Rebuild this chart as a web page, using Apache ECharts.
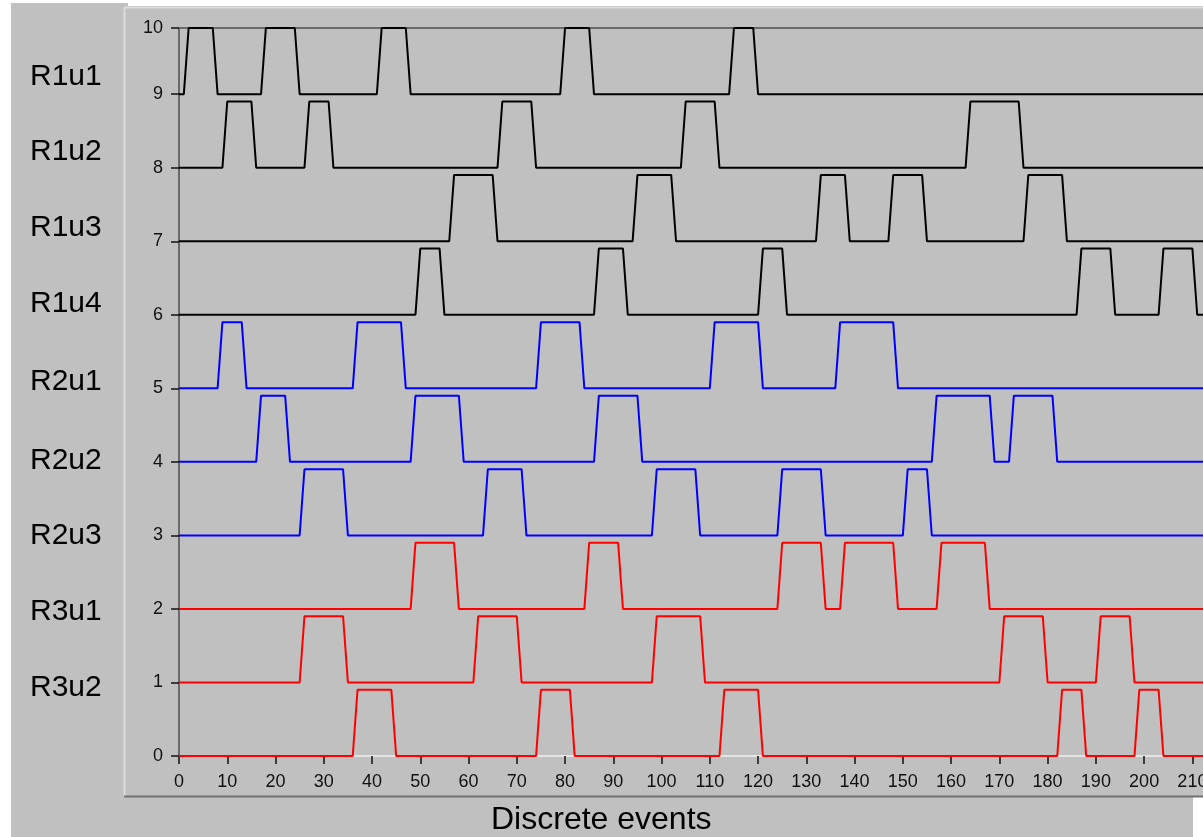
<!DOCTYPE html>
<html>
<head>
<meta charset="utf-8">
<script src="https://cdn.jsdelivr.net/npm/echarts@6/dist/echarts.min.js"></script>
<style>
html,body{margin:0;padding:0;background:#ffffff;overflow:hidden;width:1203px;height:837px;}
#chart{width:1203px;height:837px;position:absolute;left:0;top:0;}
</style>
</head>
<body>
<div id="chart"></div>
<script>
// Row labels (left side)
const rowLabels = ['R1u1','R1u2','R1u3','R1u4','R2u1','R2u2','R2u3','R3u1','R3u2'];
// Baseline level of each trace (top to bottom)
const traceBases = [9, 8, 7, 6, 5, 4, 3, 2, 1, 0];
const pulseHeight = 0.9;
// Each pulse: [last low x, first high x, last high x, first low x]
const trace9 = [[1,2,7,8],[17,18,24,25],[41,42,47,48],[79,80,85,86],[114,115,119,120]];
const trace8 = [[9,10,15,16],[26,27,31,32],[66,67,73,74],[104,105,111,112],[163,164,174,175]];
const trace7 = [[56,57,65,66],[94,95,102,103],[132,133,138,139],[147,148,154,155],[175,176,183,184]];
const trace6 = [[49,50,54,55],[86,87,92,93],[120,121,125,126],[186,187,193,194],[203,204,210,211]];
const trace5 = [[8,9,13,14],[36,37,46,47],[74,75,83,84],[110,111,120,121],[136,137,148,149]];
const trace4 = [[16,17,22,23],[48,49,58,59],[86,87,95,96],[156,157,168,169],[172,173,181,182]];
const trace3 = [[25,26,34,35],[63,64,71,72],[98,99,107,108],[124,125,133,134],[150,151,155,156]];
const trace2 = [[48,49,57,58],[84,85,91,92],[124,125,133,134],[137,138,148,149],[157,158,167,168]];
const trace1 = [[25,26,34,35],[61,62,70,71],[98,99,108,109],[170,171,179,180],[190,191,197,198]];
const trace0 = [[36,37,44,45],[74,75,81,82],[112,113,120,121],[182,183,187,188],[198,199,203,204]];
const tracePulses = [trace9, trace8, trace7, trace6, trace5, trace4, trace3, trace2, trace1, trace0];
const traceColors = ['#000000','#000000','#000000','#000000','#0000ff','#0000ff','#0000ff','#ff0000','#ff0000','#ff0000'];
const xStart = 0, xEnd = 214;
const xTickInterval = 10;
const xAxisTitle = 'Discrete events';

function buildTrace(pulses, base) {
  const hi = +(base + pulseHeight).toFixed(2);
  const pts = [[xStart, base]];
  pulses.forEach(p => {
    pts.push([p[0], base], [p[1], hi], [p[2], hi], [p[3], base]);
  });
  pts.push([xEnd, base]);
  return pts;
}

const chart = echarts.init(document.getElementById('chart'), null, {renderer: 'canvas', width: 1203, height: 837});

const series = tracePulses.map((p, i) => ({
  type: 'line',
  data: buildTrace(p, traceBases[i]),
  showSymbol: false,
  symbol: 'none',
  animation: false,
  clip: true,
  lineStyle: {color: traceColors[i], width: 2},
  z: 3
}));

const labelYs = [77, 152, 228, 304, 382, 461, 536, 612, 688];
const graphics = [
  {type:'rect', shape:{x:0,y:0,width:11,height:837}, style:{fill:'#ffffff'}, z:-1, silent:true},
  {type:'rect', shape:{x:0,y:0,width:1203,height:3}, style:{fill:'#ffffff'}, z:-1, silent:true},
  {type:'rect', shape:{x:128,y:0,width:1075,height:6}, style:{fill:'#ffffff'}, z:-1, silent:true},
  {type:'rect', shape:{x:1193,y:797,width:10,height:40}, style:{fill:'#ffffff'}, z:-1, silent:true},
  {type:'line', shape:{x1:124.5,y1:7,x2:124.5,y2:797}, style:{stroke:'#dcdcdc', lineWidth:2}, silent:true},
  {type:'line', shape:{x1:124,y1:7.5,x2:1203,y2:7.5}, style:{stroke:'#dcdcdc', lineWidth:2}, silent:true},
  {type:'line', shape:{x1:124,y1:796.5,x2:1203,y2:796.5}, style:{stroke:'#707070', lineWidth:2}, silent:true},
  {type:'text', left:491, top:804, style:{text:xAxisTitle, fontSize:32, fontFamily:'Liberation Sans, Arial, sans-serif', fill:'#000000'}, silent:true}
];
rowLabels.forEach((t, i) => {
  graphics.push({type:'text', left:30, top:labelYs[i]-15, style:{text:t, fontSize:30, fontFamily:'Liberation Sans, Arial, sans-serif', fill:'#000000'}, silent:true});
});

chart.setOption({
  backgroundColor: '#c0c0c0',
  animation: false,
  grid: {left: 179, top: 28, width: 1024, height: 728, containLabel: false, outerBoundsMode: 'none'},
  xAxis: [{
    type: 'value', min: 0, max: 212.2, interval: xTickInterval,
    axisLine: {show: true, onZero: false, lineStyle: {color: '#e4e4e4', width: 2}},
    axisTick: {show: true, length: 8, lineStyle: {color: '#111111', width: 1.5}},
    axisLabel: {show: true, margin: 17, fontSize: 18, color: '#111111', fontFamily: 'Liberation Sans, Arial, sans-serif', showMaxLabel: false},
    splitLine: {show: false}
  }, {
    type: 'value', position: 'top', min: 0, max: 212.2,
    axisLine: {show: true, onZero: false, lineStyle: {color: '#6a6a6a', width: 2}},
    axisTick: {show: false}, axisLabel: {show: false}, splitLine: {show: false}
  }],
  yAxis: {
    type: 'value', min: 0, max: 9.9, interval: 1,
    axisLine: {show: true, onZero: false, lineStyle: {color: '#6a6a6a', width: 2}},
    axisTick: {show: true, length: 8, lineStyle: {color: '#111111', width: 1.5}},
    axisLabel: {show: true, margin: 16, fontSize: 18, color: '#111111', fontFamily: 'Liberation Sans, Arial, sans-serif', showMaxLabel: true,
      formatter: v => String(Math.round(v))},
    splitLine: {show: false}
  },
  graphic: graphics,
  series: series
});
</script>
</body>
</html>
